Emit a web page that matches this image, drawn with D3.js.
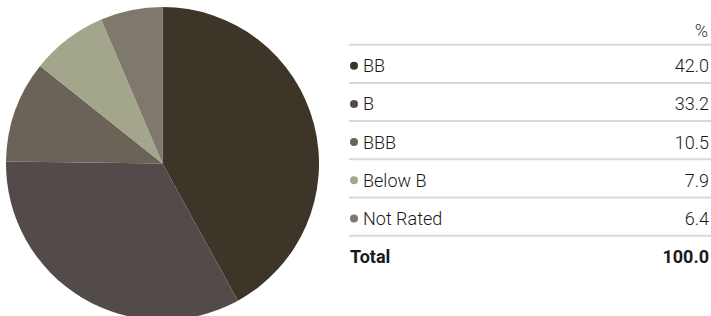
<!DOCTYPE html>
<html>
<head>
<meta charset="utf-8">
<script src="https://cdn.jsdelivr.net/npm/d3@7"></script>
<style>
  body { margin: 0; background: #fff; }
  svg text { font-family: "Roboto", sans-serif; font-weight: 300; font-size: 18px; fill: #1a1a1a; }
</style>
</head>
<body>
<svg id="grafico" width="711" height="316"></svg>
<script>
// datos del grafico
var categorias = ["BB", "B", "BBB", "Below B", "Not Rated"];
var valores = [42.0, 33.2, 10.5, 7.9, 6.4];
var colores = ["#3e3529", "#534a4a", "#6b6357", "#a3a68a", "#7f786c"];
var totalEtiqueta = "Total";
var totalValor = "100.0";
var encabezado = "%";

var svg = d3.select("#grafico");

// pie
var centro = { x: 162.5, y: 163.5 }, radio = 156.5;
var pie = d3.pie().sort(null).value(function (d) { return d; });
var arco = d3.arc().innerRadius(0).outerRadius(radio);

var gPie = svg.append("g").attr("transform", "translate(" + centro.x + "," + centro.y + ")");
gPie.selectAll("path")
    .data(pie(valores))
    .enter()
    .append("path")
    .attr("d", arco)
    .attr("fill", function (d, i) { return colores[i]; });

// tabla / leyenda
var x0 = 349, x1 = 711;
var filas = categorias.length + 1; // + total
var escalaY = d3.scaleLinear().domain([0, 1]).range([44.7, 82.9]); // linea superior de cada fila

var tabla = svg.append("g");

// encabezado %
tabla.append("text")
    .attr("x", 708).attr("y", 36.5)
    .attr("text-anchor", "end")
    .style("fill", "#333")
    .text(encabezado);

// lineas separadoras
tabla.selectAll(".sep")
    .data(d3.range(filas))
    .enter()
    .append("line")
    .attr("class", "sep")
    .attr("x1", x0).attr("x2", x1)
    .attr("y1", function (i) { return escalaY(i); })
    .attr("y2", function (i) { return escalaY(i); })
    .attr("stroke", "#d9d9d9")
    .attr("stroke-width", 2);

var fila = tabla.selectAll(".fila")
    .data(categorias)
    .enter()
    .append("g")
    .attr("class", "fila")
    .attr("transform", function (d, i) { return "translate(0," + (escalaY(i) + 21) + ")"; });

fila.append("circle")
    .attr("cx", 354).attr("cy", 0)
    .attr("r", 4)
    .attr("fill", function (d, i) { return colores[i]; });

fila.append("text")
    .attr("x", 363).attr("y", 6.5)
    .text(function (d) { return d; });

fila.append("text")
    .attr("x", 709).attr("y", 6.5)
    .attr("text-anchor", "end")
    .text(function (d, i) { return valores[i].toFixed(1); });

// fila total
var yTotal = escalaY(categorias.length) + 21;
tabla.append("text")
    .attr("x", 350).attr("y", yTotal + 6.5)
    .style("font-weight", "bold")
    .text(totalEtiqueta);
tabla.append("text")
    .attr("x", 709).attr("y", yTotal + 6.5)
    .attr("text-anchor", "end")
    .style("font-weight", "bold")
    .text(totalValor);
</script>
</body>
</html>
